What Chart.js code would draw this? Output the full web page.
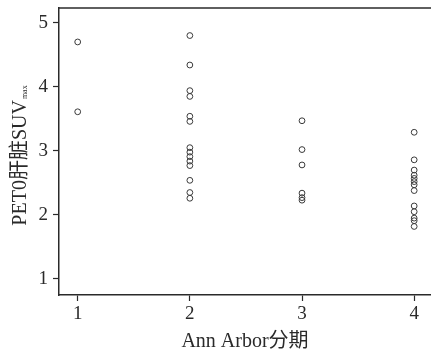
<!DOCTYPE html>
<html>
<head>
    <meta charset="utf-8">
    <title>Ann Arbor分期 散点图</title>
    <script src="https://cdn.jsdelivr.net/npm/chart.js"></script>
    <style>
        html, body { margin: 0; padding: 0; background: #fff; }
        #wrap { width: 431px; height: 356px; }
    </style>
</head>
<body>
    <div id="wrap"><canvas id="myChart"></canvas></div>

    <script>
        // stages on the x axis
        const stages = [1, 2, 3, 4];
        const yTicks = [1, 2, 3, 4, 5];

        // PET0 liver SUVmax per stage
        const stage1 = [4.70, 3.61];
        const stage2 = [4.80, 4.34, 3.94, 3.85, 3.54, 3.46, 3.05, 2.98, 2.91, 2.84, 2.77, 2.54, 2.35, 2.26];
        const stage3 = [3.47, 3.02, 2.78, 2.34, 2.27, 2.23];
        const stage4 = [3.29, 2.86, 2.70, 2.62, 2.57, 2.52, 2.47, 2.38, 2.14, 2.05, 1.95, 1.91, 1.82];

        const groups = [stage1, stage2, stage3, stage4];
        const points = [];
        groups.forEach((vals, i) => {
            vals.forEach(v => points.push({ x: stages[i], y: v }));
        });

        const ink = '#2a2a2a';
        const serif = '"Liberation Serif", "Noto Sans CJK SC", serif';

        // y title with a small "max" subscript, drawn rotated
        const yTitle = {
            id: 'yTitle',
            afterDraw(chart) {
                const ctx = chart.ctx;
                const main = 'PET0肝脏SUV';
                const sub = 'max';
                ctx.save();
                ctx.fillStyle = ink;
                ctx.font = '20px ' + serif;
                const w1 = ctx.measureText(main).width;
                ctx.font = '8px ' + serif;
                const w2 = ctx.measureText(sub).width;
                const cy = (chart.chartArea.top + chart.chartArea.bottom) / 2 + 4;
                ctx.translate(26, cy);
                ctx.rotate(-Math.PI / 2);
                ctx.textBaseline = 'alphabetic';
                ctx.textAlign = 'left';
                const x0 = -(w1 + w2 + 1) / 2;
                ctx.font = '20px ' + serif;
                ctx.fillText(main, x0, 0);
                ctx.font = '8px ' + serif;
                ctx.fillText(sub, x0 + w1 + 1, 1);
                ctx.restore();
            }
        };

        // top edge of the frame
        const topLine = {
            id: 'topLine',
            afterDraw(chart) {
                const a = chart.chartArea;
                const ctx = chart.ctx;
                ctx.save();
                ctx.strokeStyle = ink;
                ctx.lineWidth = 1.5;
                ctx.beginPath();
                ctx.moveTo(a.left, a.top);
                ctx.lineTo(a.right + 2, a.top);
                ctx.stroke();
                ctx.restore();
            }
        };

        const ctx = document.getElementById('myChart').getContext('2d');
        const myChart = new Chart(ctx, {
            type: 'scatter',
            data: {
                datasets: [{
                    data: points,
                    pointStyle: 'circle',
                    pointRadius: 2.9,
                    pointBorderWidth: 1,
                    borderColor: '#3a3a3a',
                    backgroundColor: 'rgba(0,0,0,0)'
                }]
            },
            options: {
                responsive: true,
                maintainAspectRatio: false,
                animation: false,
                layout: { autoPadding: false, padding: { top: 8, right: 0, left: 0, bottom: 0 } },
                plugins: {
                    legend: { display: false },
                    tooltip: { enabled: false }
                },
                scales: {
                    x: {
                        type: 'linear',
                        min: 5 / 6,
                        max: 4.15,
                        afterFit(scale) {
                            scale.height = 61;
                            scale.paddingLeft = 0;
                            scale.paddingRight = 0;
                        },
                        afterBuildTicks(scale) { scale.ticks = stages.map(v => ({ value: v })); },
                        grid: { display: true, drawOnChartArea: false, tickLength: 6, color: ink, tickWidth: 1.2 },
                        border: { display: true, color: ink, width: 1.5 },
                        ticks: { color: ink, font: { family: serif, size: 19 }, padding: 2, maxRotation: 0 },
                        title: {
                            display: true,
                            text: 'Ann Arbor分期',
                            color: ink,
                            font: { family: serif, size: 20 },
                            padding: { top: 0, bottom: 2 }
                        }
                    },
                    y: {
                        min: 0.75,
                        max: 5.23,
                        afterFit(scale) {
                            scale.width = 59;
                            scale.paddingTop = 0;
                            scale.paddingBottom = 0;
                        },
                        afterBuildTicks(scale) { scale.ticks = yTicks.map(v => ({ value: v })); },
                        grid: { display: true, drawOnChartArea: false, tickLength: 6, color: ink, tickWidth: 1.2 },
                        border: { display: true, color: ink, width: 1.5 },
                        ticks: { color: ink, font: { family: serif, size: 19 }, padding: 5 }
                    }
                }
            },
            plugins: [yTitle, topLine]
        });
    </script>
</body>
</html>
